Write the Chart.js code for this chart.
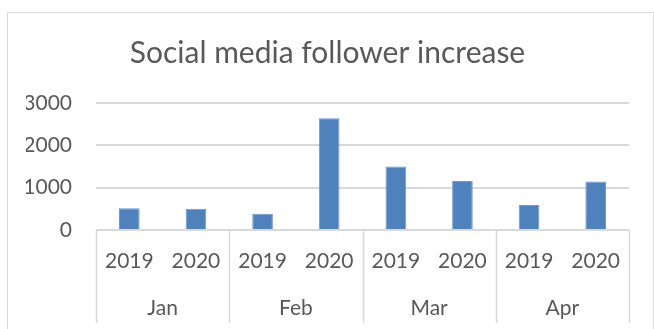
<!DOCTYPE html>
<html>
<head>
<meta charset="utf-8">
<script src="https://cdn.jsdelivr.net/npm/chart.js@4/dist/chart.umd.min.js"></script>
<style>
  html, body { margin: 0; padding: 0; background: #fff; overflow: hidden; }
  #wrap { position: relative; width: 654px; height: 329px; }
  #frame {
    position: absolute; left: 7px; top: 12px; width: 645px; height: 400px;
    border: 1px solid #d9d9d9; pointer-events: none;
  }
</style>
</head>
<body>
<div id="wrap">
  <canvas id="followerChart" width="654" height="329"></canvas>
  <div id="frame"></div>
</div>
<script>
const years = ["2019", "2020", "2019", "2020", "2019", "2020", "2019", "2020"];
const months = ["Jan", "Feb", "Mar", "Apr"];
const followers = [515, 500, 385, 2640, 1500, 1160, 590, 1145];

const textColor = "#595959";
const lineColor = "#d9d9d9";
const fontFamily = "Lato, 'Open Sans', sans-serif";

// vertical separators between the month groups, below the plot
const groupLines = {
  id: "groupLines",
  afterDraw(chart) {
    const ctx = chart.ctx;
    const xs = chart.scales.x;
    const outer = chart.scales.x2;
    const step = xs.getPixelForValue(1) - xs.getPixelForValue(0);
    ctx.save();
    ctx.strokeStyle = lineColor;
    ctx.lineWidth = 1.5;
    for (let g = 0; g <= months.length; g++) {
      const px = Math.round(xs.getPixelForValue(g * 2) - step / 2) + 0.5;
      ctx.beginPath();
      ctx.moveTo(px, chart.chartArea.bottom);
      ctx.lineTo(px, outer.bottom - 1);
      ctx.stroke();
    }
    ctx.restore();
  },
};

new Chart(document.getElementById("followerChart"), {
  type: "bar",
  data: {
    labels: years,
    datasets: [
      {
        label: "Followers",
        data: followers,
        backgroundColor: "#4f81bd",
        borderColor: "#6f98c9",
        borderWidth: 1,
        barPercentage: 0.31,
        categoryPercentage: 1,
      },
    ],
  },
  options: {
    responsive: false,
    animation: false,
    layout: { padding: { left: 26, right: 25, top: 0, bottom: 5 } },
    plugins: {
      legend: { display: false },
      tooltip: { enabled: false },
      title: {
        display: true,
        text: "Social media follower increase",
        color: textColor,
        font: { family: fontFamily, size: 30, weight: "normal" },
        padding: { top: 35, bottom: 32 },
      },
    },
    scales: {
      x: {
        offset: true,
        grid: { display: false, drawTicks: false },
        border: { display: false },
        ticks: {
          color: textColor,
          font: { family: fontFamily, size: 21 },
          padding: 18.4,
          autoSkip: false,
          maxRotation: 0,
        },
      },
      x2: {
        type: "category",
        position: "bottom",
        labels: months,
        offset: true,
        grid: { display: false, drawTicks: false },
        border: { display: false },
        ticks: {
          color: textColor,
          font: { family: fontFamily, size: 21 },
          padding: 3.4,
          autoSkip: false,
          maxRotation: 0,
        },
      },
      y: {
        min: 0,
        max: 3000,
        border: { display: false },
        grid: { color: lineColor, lineWidth: 2, drawTicks: false },
        afterFit: (scale) => { scale.width = 70; },
        ticks: {
          stepSize: 1000,
          autoSkip: false,
          color: textColor,
          font: { family: fontFamily, size: 21 },
          padding: 24,
          callback: (v) => String(v),
        },
      },
    },
  },
  plugins: [groupLines],
});
</script>
</body>
</html>
